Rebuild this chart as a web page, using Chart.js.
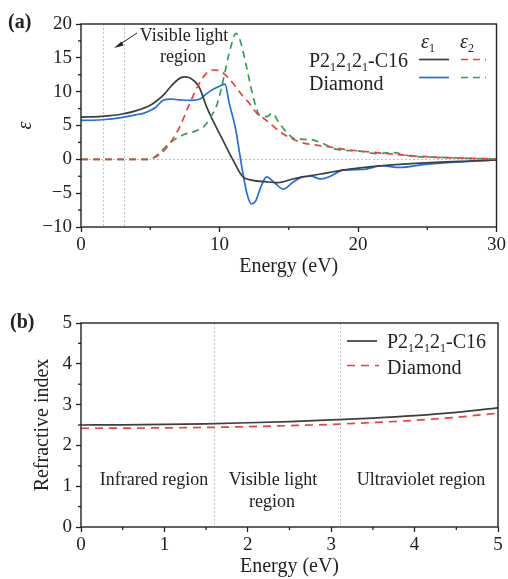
<!DOCTYPE html>
<html>
<head>
<meta charset="utf-8">
<script src="https://cdn.jsdelivr.net/npm/chart.js@4.4.0/dist/chart.umd.min.js"></script>
<style>
body { margin: 0; background: #fff; }
#wrap { position: relative; width: 508px; height: 579px; }
canvas { position: absolute; left: 0; }
</style>
</head>
<body>
<div id="wrap">
  <canvas id="graphA" width="508" height="290" style="top:0"></canvas>
  <canvas id="graphB" width="508" height="289" style="top:290px"></canvas>
</div>
<script>
/* ---------- data, panel (a) : dielectric function ---------- */
var c16Eps1E = [0, 1.5, 3, 4, 5, 5.5, 6, 6.5, 7, 7.4, 7.9, 8.5, 9.1, 9.75, 10.35, 10.95, 11.65, 12.4, 13.3, 14.2, 15.3, 16, 17.2, 18.9, 20, 22, 25.6, 28, 30]
var c16Eps1 = [6.25, 6.35, 6.7, 7.2, 8.0, 8.7, 9.6, 10.8, 11.8, 12.2, 12.0, 10.8, 7.6, 4.8, 2.4, 0, -2.5, -3.1, -3.3, -3.45, -2.9, -2.6, -2.2, -1.6, -1.3, -0.9, -0.45, -0.25, -0.1]

var diaEps1E = [0, 1.5, 3, 4, 4.5, 5, 5.4, 5.9, 6.5, 7.1, 8.0, 8.6, 9.0, 9.5, 10.0, 10.4, 10.7, 11.15, 11.65, 12.0, 12.3, 12.6, 13.0, 13.4, 14.0, 14.6, 15.3, 16.0, 16.6, 17.3, 18.0, 18.9, 20.4, 21.7, 23, 25, 28, 30]
var diaEps1 = [5.75, 5.85, 6.2, 6.6, 6.8, 7.2, 7.7, 8.7, 8.9, 8.8, 8.7, 8.9, 9.6, 10.3, 10.8, 11.1, 8.3, 4.6, -1.6, -5.2, -6.6, -6.2, -4.0, -2.6, -3.5, -4.4, -3.4, -2.6, -2.5, -2.9, -2.5, -1.6, -1.5, -0.95, -1.2, -0.7, -0.3, -0.1]

var c16Eps2E = [0, 4.8, 5.2, 5.8, 6.5, 7.1, 7.8, 8.4, 9.0, 9.6, 10.0, 10.7, 11.7, 12.15, 12.7, 13.35, 14.5, 15.75, 17.7, 19.35, 21.3, 23.2, 25.6, 28, 30]
var c16Eps2 = [0, 0, 0.2, 0.9, 2.6, 4.7, 8.0, 10.7, 12.6, 13.2, 13.1, 11.9, 9.3, 8.3, 6.8, 5.8, 3.9, 2.6, 1.9, 1.4, 1.0, 0.65, 0.3, 0.15, 0.05]

var diaEps2E = [0, 4.8, 5.2, 5.7, 6.4, 7.35, 8.3, 8.8, 9.3, 9.85, 10.3, 10.7, 11.2, 11.5, 12.0, 12.4, 12.9, 13.4, 13.8, 14.3, 14.8, 15.5, 16.5, 17.4, 18.4, 20.1, 21.3, 22.5, 23.9, 26, 28, 30]
var diaEps2 = [0, 0, 0.2, 1.0, 2.4, 3.6, 4.2, 4.7, 6.0, 8.3, 12.0, 15.7, 18.6, 17.5, 13.2, 9.5, 6.5, 6.3, 6.8, 5.4, 4.1, 3.0, 2.95, 2.4, 1.5, 1.2, 0.85, 1.0, 0.45, 0.3, 0.15, 0.05]

/* ---------- data, panel (b) : refractive index ---------- */
var nE = [0, 0.5, 1, 1.5, 2, 2.5, 3, 3.5, 4, 4.5, 5]
var nC16 = [2.50, 2.505, 2.515, 2.53, 2.555, 2.585, 2.625, 2.67, 2.73, 2.81, 2.92]
var nDiamond = [2.42, 2.423, 2.43, 2.44, 2.46, 2.485, 2.515, 2.56, 2.615, 2.69, 2.79]

var regionEdges = [1.6, 3.1]   // eV, visible light limits

/* ---------- styles ---------- */
var FONT = '"Liberation Serif", "Times New Roman", serif'
var INK = '#222'
var GRAY = '#3e3e3e'
var BLUE = '#1f6fe6'
var RED = '#f23d3d'
var GREEN = '#2ba25a'

function pts(xs, ys) {
  return xs.map(function (v, i) { return { x: v, y: ys[i] } })
}
function line(ctx, x1, y1, x2, y2) {
  ctx.beginPath(); ctx.moveTo(x1, y1); ctx.lineTo(x2, y2); ctx.stroke()
}
function isMult(v, m) {
  var r = v / m
  return Math.abs(r - Math.round(r)) < 1e-6
}
// text with subscripts: parts = [[text, isSub], ...]
function rich(ctx, parts, x, y, size, italicFirst) {
  var cx = x
  parts.forEach(function (p, i) {
    var s = p[1] ? Math.round(size * 0.62) : size
    var st = (italicFirst && i === 0) ? 'italic ' : ''
    ctx.font = st + s + 'px ' + FONT
    ctx.fillText(p[0], cx, p[1] ? y + size * 0.22 : y)
    cx += ctx.measureText(p[0]).width
  })
}
var c16Name = [['P2'], ['1', 1], ['2'], ['1', 1], ['2'], ['1', 1], ['-C16']]

function frameAndMinor(chart, xMajor, yMajor) {
  var ctx = chart.ctx, a = chart.chartArea
  var sx = chart.scales.x, sy = chart.scales.y
  ctx.save()
  ctx.strokeStyle = INK
  ctx.lineWidth = 1.3
  sx.ticks.forEach(function (t) {
    if (isMult(t.value, xMajor)) return
    var px = sx.getPixelForValue(t.value)
    line(ctx, px, a.bottom, px, a.bottom + 3)
  })
  sy.ticks.forEach(function (t) {
    if (isMult(t.value, yMajor)) return
    var py = sy.getPixelForValue(t.value)
    line(ctx, a.left - 3, py, a.left, py)
  })
  ctx.lineWidth = 1.4
  ctx.strokeRect(a.left, a.top, a.right - a.left, a.bottom - a.top)
  ctx.restore()
}

function axisX(min, max, step, major, h, title, tpad) {
  return {
    type: 'linear', min: min, max: max,
    border: { display: false },
    grid: { drawOnChartArea: false, tickLength: 5, tickWidth: 1.3,
      tickColor: function (c) { return isMult(c.tick.value, major) ? INK : 'rgba(0,0,0,0)' } },
    ticks: { stepSize: step, autoSkip: false, maxRotation: 0, padding: 2, color: INK,
      font: { family: FONT, size: 19 },
      callback: function (v) { return isMult(v, major) ? String(Math.round(v)) : '' } },
    title: { display: true, text: title, color: INK, font: { family: FONT, size: 20 }, padding: { top: 0, bottom: tpad } },
    afterFit: function (s) { s.height = h }
  }
}
function axisY(min, max, step, major, title, tpad, italic) {
  return {
    type: 'linear', min: min, max: max,
    border: { display: false },
    grid: { drawOnChartArea: false, tickLength: 5, tickWidth: 1.3,
      tickColor: function (c) { return isMult(c.tick.value, major) ? INK : 'rgba(0,0,0,0)' } },
    ticks: { stepSize: step, autoSkip: false, padding: 4, color: INK,
      font: { family: FONT, size: 19 },
      callback: function (v) {
        if (!isMult(v, major)) return ''
        return v < 0 ? '\u2212' + Math.abs(v) : String(v)
      } },
    title: { display: true, text: title, color: INK,
      font: { family: FONT, size: 20, style: italic ? 'italic' : 'normal' },
      padding: { top: tpad, bottom: 0 } },
    afterFit: function (s) { s.width = 81 }
  }
}

/*------------------------------*/
/*     GRAPHIQUE (a)  epsilon    */
/*------------------------------*/
var pluginA = {
  id: 'panelA',
  beforeDatasetsDraw: function (chart) {
    var ctx = chart.ctx, a = chart.chartArea
    var sx = chart.scales.x, sy = chart.scales.y
    ctx.save()
    ctx.strokeStyle = '#c2c2c2'
    ctx.lineWidth = 1
    ctx.setLineDash([2, 2])
    regionEdges.forEach(function (e) {
      var px = Math.round(sx.getPixelForValue(e)) + 0.5
      line(ctx, px, a.top, px, a.bottom)
    })
    var py = Math.round(sy.getPixelForValue(0)) + 0.5
    line(ctx, a.left, py, a.right, py)
    ctx.restore()
  },
  afterDraw: function (chart) {
    var ctx = chart.ctx
    frameAndMinor(chart, 10, 5)
    ctx.save()
    ctx.fillStyle = INK
    ctx.strokeStyle = INK
    ctx.textBaseline = 'alphabetic'
    // panel letter
    ctx.font = 'bold 20px ' + FONT
    ctx.fillText('(a)', 8, 28)
    // annotation
    ctx.font = '18px ' + FONT
    ctx.textAlign = 'center'
    ctx.fillText('Visible light', 184, 41)
    ctx.fillText('region', 183, 62)
    ctx.textAlign = 'left'
    ctx.lineWidth = 1
    line(ctx, 137, 33, 119, 45)
    ctx.beginPath()
    ctx.moveTo(114, 48); ctx.lineTo(121.5, 41.5); ctx.lineTo(123.5, 45.5); ctx.closePath(); ctx.fill()
    // legend
    rich(ctx, c16Name, 309, 67, 20)
    ctx.font = '20px ' + FONT
    ctx.fillText('Diamond', 309, 90)
    rich(ctx, [['\u03b5'], ['1', 1]], 421, 48, 20, true)
    rich(ctx, [['\u03b5'], ['2', 1]], 460, 48, 20, true)
    ctx.lineWidth = 1.7
    ctx.strokeStyle = GRAY; line(ctx, 419, 59.5, 449, 59.5)
    ctx.strokeStyle = BLUE; line(ctx, 419, 77.5, 449, 77.5)
    ctx.setLineDash([7, 5])
    ctx.strokeStyle = RED; line(ctx, 461, 59.5, 486, 59.5)
    ctx.strokeStyle = GREEN; line(ctx, 461, 77.5, 486, 77.5)
    ctx.restore()
  }
}

var ctx_a = document.getElementById('graphA').getContext('2d')
var graphA = new Chart(ctx_a, {
  type: 'line',
  data: {
    datasets: [
      { label: 'C16 e2', data: pts(c16Eps2E, c16Eps2), borderColor: RED, borderDash: [7, 5] },
      { label: 'Diamond e2', data: pts(diaEps2E, diaEps2), borderColor: GREEN, borderDash: [7, 5] },
      { label: 'C16 e1', data: pts(c16Eps1E, c16Eps1), borderColor: GRAY },
      { label: 'Diamond e1', data: pts(diaEps1E, diaEps1), borderColor: BLUE }
    ]
  },
  options: {
    responsive: false,
    animation: false,
    parsing: false,
    layout: { padding: { top: 24, right: 10, left: 0, bottom: 0 } },
    elements: {
      point: { radius: 0 },
      line: { borderWidth: 1.7, cubicInterpolationMode: 'monotone', fill: false }
    },
    plugins: { legend: { display: false }, tooltip: { enabled: false } },
    scales: {
      x: axisX(0, 30, 5, 10, 63, 'Energy (eV)', 11),
      y: axisY(-10, 20, 2.5, 5, '\u03b5', 14, true)
    }
  },
  plugins: [pluginA]
})

/*------------------------------*/
/*   GRAPHIQUE (b)  indice n     */
/*------------------------------*/
var pluginB = {
  id: 'panelB',
  beforeDatasetsDraw: function (chart) {
    var ctx = chart.ctx, a = chart.chartArea, sx = chart.scales.x
    ctx.save()
    ctx.strokeStyle = '#c2c2c2'
    ctx.lineWidth = 1
    ctx.setLineDash([2, 2])
    regionEdges.forEach(function (e) {
      var px = Math.round(sx.getPixelForValue(e)) + 0.5
      line(ctx, px, a.top, px, a.bottom)
    })
    ctx.restore()
  },
  afterDraw: function (chart) {
    var ctx = chart.ctx
    frameAndMinor(chart, 1, 1)
    ctx.save()
    ctx.fillStyle = INK
    ctx.font = 'bold 20px ' + FONT
    ctx.fillText('(b)', 10, 38)
    // region labels
    ctx.font = '18px ' + FONT
    ctx.textAlign = 'center'
    ctx.fillText('Infrared region', 154, 195)
    ctx.fillText('Visible light', 273, 195)
    ctx.fillText('region', 272, 217)
    ctx.fillText('Ultraviolet region', 421, 195)
    ctx.textAlign = 'left'
    // legend
    rich(ctx, c16Name, 387, 58, 20)
    ctx.font = '20px ' + FONT
    ctx.fillText('Diamond', 387, 84)
    ctx.lineWidth = 1.7
    ctx.strokeStyle = GRAY; line(ctx, 347, 51, 377, 51)
    ctx.setLineDash([8, 6])
    ctx.strokeStyle = RED; line(ctx, 347, 75.5, 379, 75.5)
    ctx.restore()
  }
}

var ctx_b = document.getElementById('graphB').getContext('2d')
var graphB = new Chart(ctx_b, {
  type: 'line',
  data: {
    datasets: [
      { label: 'Diamond', data: pts(nE, nDiamond), borderColor: RED, borderDash: [8, 6] },
      { label: 'P212121-C16', data: pts(nE, nC16), borderColor: GRAY }
    ]
  },
  options: {
    responsive: false,
    animation: false,
    parsing: false,
    layout: { padding: { top: 33, right: 10, left: 0, bottom: 0 } },
    elements: {
      point: { radius: 0 },
      line: { borderWidth: 1.7, cubicInterpolationMode: 'monotone', fill: false }
    },
    plugins: { legend: { display: false }, tooltip: { enabled: false } },
    scales: {
      x: axisX(0, 5, 0.5, 1, 52, 'Energy (eV)', 0),
      y: axisY(0, 5, 0.5, 1, 'Refractive index', 31, false)
    }
  },
  plugins: [pluginB]
})
</script>
</body>
</html>
